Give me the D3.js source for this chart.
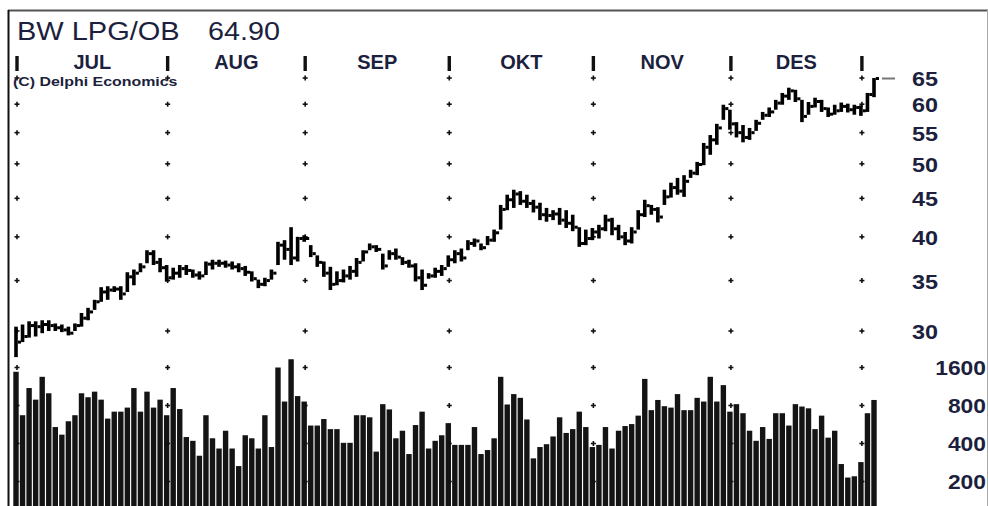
<!DOCTYPE html>
<html><head><meta charset="utf-8">
<script src="https://cdn.jsdelivr.net/npm/d3@7"></script>
<style>body{margin:0;background:#fff}svg{display:block}</style>
</head><body><svg id="c" width="988" height="506"></svg>
<script>
const titleText = "BW LPG/OB";
const lastPriceText = "64.90";
const copyrightText = "(C) Delphi Economics";
const monthLabels = ["JUL","AUG","SEP","OKT","NOV","DES",""];
const monthDays = [23,21,22,22,21,20,3];
const priceTicks = [30,35,40,45,50,55,60,65];
const volumeTicks = [200,400,800,1600];

const high = [30.4,30.6,30.9,30.9,31.0,31.0,30.7,30.6,30.4,30.7,31.7,32.2,33.0,34.3,34.4,34.4,34.4,35.9,36.2,36.9,38.4,38.4,37.5,
36.7,36.4,36.7,36.7,36.2,36.0,37.1,37.3,37.3,37.2,37.1,36.9,36.6,36.0,35.1,35.3,36.2,39.4,39.6,41.2,40.0,
40.2,39.0,37.8,37.1,36.5,36.0,36.2,36.6,37.5,38.4,39.2,39.0,38.0,38.4,38.6,37.6,37.3,36.9,36.2,35.8,36.4,36.7,
37.8,38.4,38.6,39.6,39.8,39.2,40.1,40.9,44.1,45.5,46.2,46.0,45.5,44.8,44.4,43.7,43.4,43.7,43.4,42.8,41.2,40.9,
41.1,41.5,42.8,42.4,41.5,40.6,41.2,43.4,44.8,44.1,43.8,46.2,47.2,47.9,48.3,49.1,50.3,53.3,54.6,56.5,59.9,
59.0,56.8,56.3,55.8,57.2,58.6,59.4,60.8,62.1,63.1,62.7,60.8,60.4,61.2,60.8,59.4,59.9,60.3,60.1,59.9,
59.8,62.1,65.0];
const low = [27.7,29.0,29.4,29.5,29.8,30.0,30.0,29.9,29.6,30.0,30.4,31.0,32.0,32.8,33.0,33.8,33.0,33.8,34.5,35.9,36.9,36.7,35.9,
34.9,35.1,35.3,35.6,35.3,35.1,35.6,36.2,36.5,36.4,36.2,35.9,35.5,34.9,34.2,34.4,35.1,36.7,37.3,36.7,37.1,
39.4,37.6,36.5,35.4,34.0,34.5,34.8,35.1,35.4,37.1,38.4,38.2,36.2,37.3,37.3,36.7,36.4,34.9,34.0,35.2,35.3,35.5,
36.5,36.9,37.1,38.4,38.8,38.4,39.0,39.4,40.9,43.4,43.7,44.1,43.7,43.1,42.1,41.9,42.1,41.5,41.1,40.7,38.8,39.0,
39.6,39.8,40.7,40.2,39.6,39.0,39.2,40.9,42.5,42.8,41.8,44.1,45.1,45.5,45.2,47.9,48.3,49.8,51.4,53.0,57.2,
55.5,54.2,53.4,53.8,55.3,57.2,57.7,59.0,59.9,60.8,60.4,56.8,58.1,59.4,58.6,57.7,58.1,58.6,58.5,58.1,
57.9,58.6,61.3];
const close = [29.0,29.5,30.5,30.4,30.6,30.5,30.3,30.1,29.8,30.5,31.2,31.8,32.8,33.8,34.0,34.1,33.6,35.4,35.8,36.5,38.0,37.0,36.4,
35.3,35.8,36.3,36.1,35.6,35.5,36.8,36.9,36.9,36.7,36.5,36.3,35.9,35.2,34.6,35.0,35.8,39.0,38.5,37.5,39.8,
39.8,38.0,37.0,35.8,34.6,35.0,35.5,36.0,37.0,38.2,38.8,38.5,36.6,38.0,37.6,37.0,36.6,35.3,34.5,35.5,36.0,36.3,
37.3,38.0,37.5,39.2,39.5,38.7,39.6,40.5,43.5,44.8,45.6,44.6,44.3,43.8,42.8,42.7,42.9,42.1,41.7,41.2,39.2,39.8,
40.6,41.0,42.1,41.0,40.0,39.5,40.6,42.8,44.0,43.5,42.5,45.2,46.5,46.0,47.4,48.6,49.9,52.6,53.8,55.8,59.2,
56.5,55.0,54.2,55.0,56.6,58.0,58.6,60.2,61.5,62.5,61.0,57.8,59.6,60.5,59.2,58.2,58.8,59.6,59.0,59.4,
58.8,61.8,64.9];
const volume = [1480,670,1100,890,1350,1000,540,470,600,670,1000,930,1030,890,630,715,715,770,1100,715,1030,770,890,
670,1100,750,450,420,320,670,440,365,505,365,265,465,440,365,670,375,1600,860,1860,950,
860,555,555,625,520,520,405,405,670,670,645,345,820,745,440,505,330,560,715,365,420,465,
580,390,390,390,540,330,355,440,1350,815,985,920,620,305,375,395,455,645,485,520,715,540,
375,390,540,365,505,550,570,665,1300,735,885,790,770,985,735,735,920,860,1350,860,1160,
715,820,695,505,420,540,435,695,695,555,820,785,760,520,665,445,505,275,215,220,
285,695,885];

const svg = d3.select("#c");
const n = close.length;
const x = d3.scaleLinear().domain([0, n - 1]).range([16, 874]);
const yP = d3.scaleLog().domain([30, 65]).range([331, 78]);
const yV = d3.scaleLog().domain([200, 1600]).range([481.5, 367.5]);
const txtCol = "#1c1f3d";

// frame
svg.append("line").attr("x1",8).attr("x2",988).attr("y1",10.5).attr("y2",10.5).attr("stroke","#555").attr("stroke-width",2);
svg.append("line").attr("x1",8.5).attr("x2",8.5).attr("y1",10).attr("y2",506).attr("stroke","#111").attr("stroke-width",2);
svg.append("line").attr("x1",987.5).attr("x2",987.5).attr("y1",10).attr("y2",506).attr("stroke","#aaa").attr("stroke-width",1);

// month boundaries
const starts = [];
let acc = 0;
monthDays.forEach(d => { starts.push(acc); acc += d; });
const bx = starts.map(s => x(s) + 1);

// volume bars
svg.append("g").selectAll("rect").data(volume).join("rect")
  .attr("x", (d,i) => x(i) - 2.7).attr("width", 5.4)
  .attr("y", d => yV(d)).attr("height", d => 510 - yV(d))
  .attr("fill", "#141414");

// grid markers
const gm = svg.append("g").attr("stroke","#111").attr("stroke-width",1.6);
const levels = priceTicks.map(p => yP(p)).concat(volumeTicks.map(v => yV(v)));
bx.forEach(xx => {
  gm.append("rect").attr("x", xx - 1.7).attr("y", 56).attr("width", 3.4).attr("height", 15).attr("fill","#111").attr("stroke","none");
  levels.forEach(yy => {
    gm.append("line").attr("x1", xx - 2.5).attr("x2", xx + 2.5).attr("y1", yy).attr("y2", yy);
    gm.append("line").attr("x1", xx).attr("x2", xx).attr("y1", yy - 2.5).attr("y2", yy + 2.5);
  });
});

// price bars (high-low with close tick)
const pb = svg.append("g").attr("fill","#000");
d3.range(n).forEach(i => {
  const top = yP(high[i]), bot = yP(low[i]);
  pb.append("rect").attr("x", x(i) - 1.8).attr("y", top).attr("width", 3.6).attr("height", Math.max(2, bot - top));
  pb.append("rect").attr("x", x(i) + 1.8).attr("y", yP(close[i]) - 1.5).attr("width", 3.2).attr("height", 3);
});

// last price marker
svg.append("line").attr("x1", x(n-1) + 8).attr("x2", x(n-1) + 21)
  .attr("y1", yP(close[n-1])).attr("y2", yP(close[n-1])).attr("stroke","#777").attr("stroke-width",2);

function stretchText(g, str, tx, ty, size, weight, sx, anchor) {
  return g.append("text").attr("transform", `translate(${tx},${ty}) scale(${sx},1)`)
    .attr("font-family","'Liberation Sans', Arial, sans-serif").attr("font-size", size)
    .attr("font-weight", weight).attr("fill", txtCol).attr("text-anchor", anchor || "start").text(str);
}

// title
stretchText(svg, titleText, 17, 40, 25, "normal", 1.16);
stretchText(svg, lastPriceText, 208, 40, 25, "normal", 1.15);

// month labels
monthLabels.forEach((m, k) => {
  if (!m) return;
  const cx = (bx[k] + bx[k+1]) / 2;
  svg.append("text").attr("x", cx).attr("y", 69).attr("text-anchor","middle")
    .attr("font-family","'Liberation Sans', Arial, sans-serif").attr("font-size", 20)
    .attr("font-weight","bold").attr("fill", txtCol).text(m);
});

// copyright
stretchText(svg, copyrightText, 13, 86, 13.5, "bold", 1.18);

// price axis labels
priceTicks.forEach(p => stretchText(svg, String(p), 912, yP(p) + 8, 20, "bold", 1.17));
// volume axis labels
volumeTicks.forEach(v => stretchText(svg, String(v), 986, yV(v) + 7.5, 19.5, "bold", 1.17, "end"));
</script></body></html>
